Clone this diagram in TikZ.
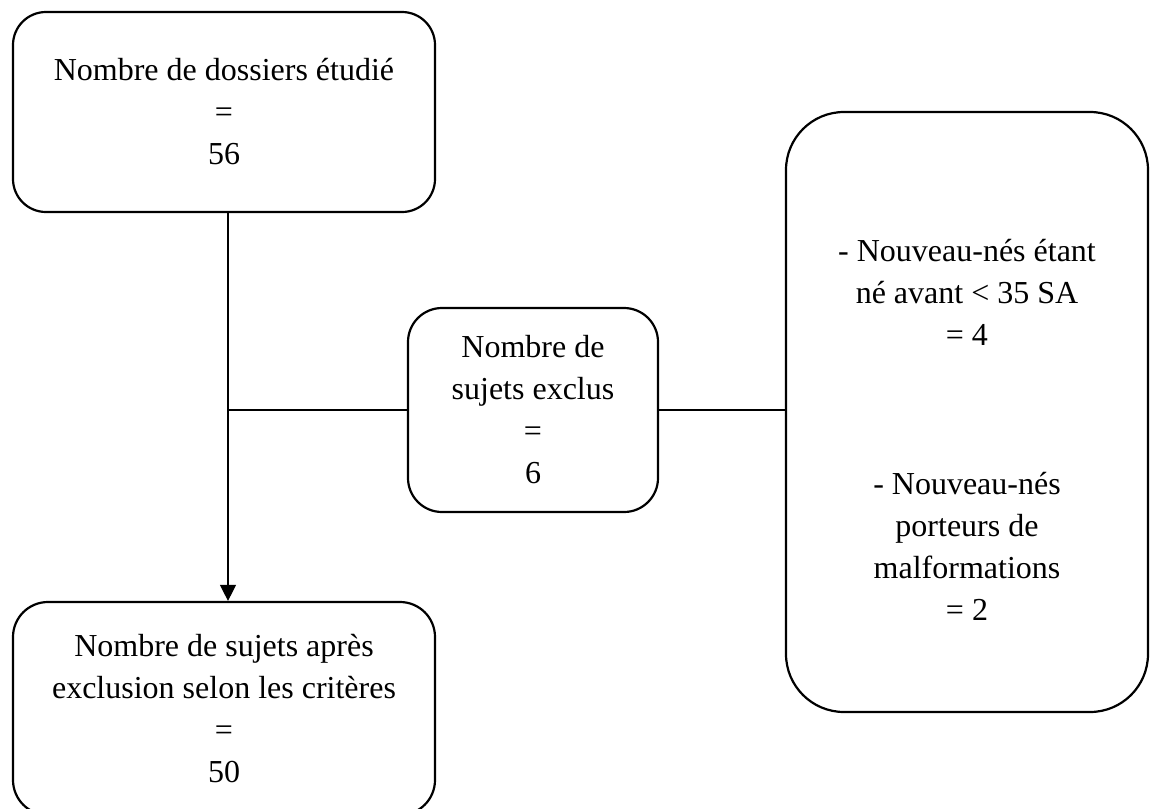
\documentclass[tikz,border=0pt]{standalone}
\usepackage{fontspec}
\setmainfont{Liberation Serif}
\usetikzlibrary{arrows.meta}

\tikzset{
		flowbox/.style={
			draw, line width=2.2pt, rounded corners=33pt,
			inner sep=0pt, align=center,
			font=\fontsize{32}{42}\selectfont
		},
		boxtext/.style={align=center, inner sep=0pt, font=\fontsize{32}{42}\selectfont},
		link/.style={line width=1.3pt},
		flow/.style={link, -{Triangle[width=16pt,length=16pt]}}
	}

\begin{document}
\begin{tikzpicture}[x=1pt, y=-1pt]
				\useasboundingbox (0,0) rectangle (1152,809);
				\clip (0,0) rectangle (1152,809);
				\node[flowbox, minimum width=422pt, minimum height=200pt] (dossiers) at (224,112)
					{Nombre de dossiers étudié\\=\\56};
				\node[flowbox, minimum width=250pt, minimum height=204pt, rounded corners=34pt] (exclus) at (533,410)
					{Nombre de\\sujets exclus\\=\\6};
				\node[flowbox, minimum width=362pt, minimum height=600pt, rounded corners=58pt] (criteres) at (967,412) {};
				\node[boxtext] (premas) at (967,292)
					{- Nouveau-nés étant\\né avant < 35 SA\\= 4};
				\node[boxtext] (malfos) at (967,546)
					{- Nouveau-nés\\porteurs de\\malformations\\= 2};
				\node[flowbox, minimum width=422pt, minimum height=213pt, rounded corners=35pt] (apres) at (224,708.5)
					{Nombre de sujets après\\exclusion selon les critères\\=\\50};
				\coordinate (spine) at (228,410);
				\draw[flow] (dossiers.south -| spine) -- (apres.north -| spine);
				\draw[link] (spine) -- (exclus.west);
				\draw[link] (exclus.east) -- (criteres.west |- exclus.east);
			\end{tikzpicture}
\end{document}
